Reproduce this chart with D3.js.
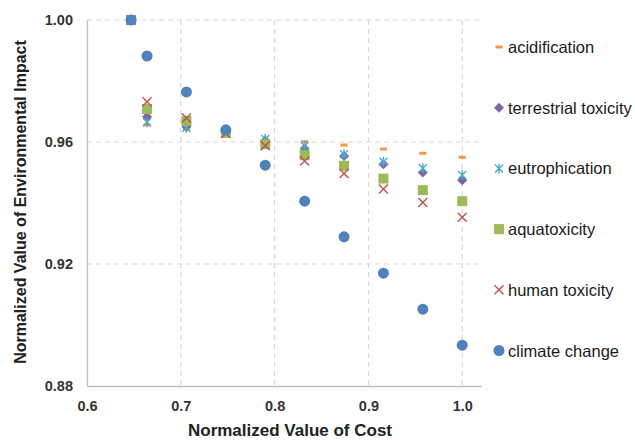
<!DOCTYPE html>
<html>
<head>
<meta charset="utf-8">
<script src="https://cdn.jsdelivr.net/npm/d3@7"></script>
<style>
  body { margin: 0; background: #fff; font-family: "Liberation Sans", Arial, sans-serif; }
</style>
</head>
<body>
<div id="chart"></div>
<script>
// Data
var costValues = [0.647, 0.664, 0.706, 0.748, 0.790, 0.832, 0.874, 0.916, 0.958, 1.000];
var acidification = [1.000, 0.9656, 0.9642, 0.9636, 0.9605, 0.9601, 0.9590, 0.9577, 0.9563, 0.9550];
var terrestrialToxicity = [1.000, 0.9683, 0.9650, 0.9632, 0.9605, 0.9579, 0.9554, 0.9527, 0.9500, 0.9475];
var eutrophication = [1.000, 0.9665, 0.9647, 0.9634, 0.9610, 0.9588, 0.9560, 0.9535, 0.9514, 0.9492];
var aquatoxicity = [1.000, 0.9708, 0.9669, 0.9630, 0.9593, 0.9557, 0.9522, 0.9480, 0.9442, 0.9406];
var humanToxicity = [1.000, 0.9732, 0.9679, 0.9628, 0.9588, 0.9538, 0.9497, 0.9446, 0.9402, 0.9353];
var climateChange = [1.000, 0.9882, 0.9764, 0.9640, 0.9524, 0.9406, 0.9289, 0.9170, 0.9052, 0.8934];

var xTicks = [0.6, 0.7, 0.8, 0.9, 1.0];
var yTicks = [0.88, 0.92, 0.96, 1.00];

var seriesNames = ['acidification', 'terrestrial toxicity', 'eutrophication', 'aquatoxicity', 'human toxicity', 'climate change'];
var seriesValues = [acidification, terrestrialToxicity, eutrophication, aquatoxicity, humanToxicity, climateChange];
var seriesColors = ['#F79646', '#8064A2', '#4BACC6', '#9BBB59', '#C0504D', '#4F81BD'];
var seriesShapes = ['dash', 'diamond', 'star', 'square', 'x', 'circle'];

var W = 635, H = 441;
var margin = {top: 20, left: 87, right: 154, bottom: 55};
var width = 481 - margin.left, height = 386 - margin.top;

var svg = d3.select('#chart').append('svg')
  .attr('width', W).attr('height', H);
var g = svg.append('g')
  .attr('transform', 'translate(' + margin.left + ',' + margin.top + ')');

var xscale = d3.scaleLinear().domain([0.6, 1.02]).range([0, width]);
var yscale = d3.scaleLinear().domain([0.88, 1.00]).range([height, 0]);

// gridlines (dashed)
g.selectAll('.hgrid').data(yTicks.filter(function(d) { return d > 0.88; }))
  .enter().append('line')
  .attr('x1', 0).attr('x2', width)
  .attr('y1', function(d) { return yscale(d); })
  .attr('y2', function(d) { return yscale(d); })
  .attr('stroke', '#d9d9d9').attr('stroke-width', 1.2)
  .attr('stroke-dasharray', '5,4');
g.selectAll('.vgrid').data(xTicks.filter(function(d) { return d > 0.6; }))
  .enter().append('line')
  .attr('x1', function(d) { return xscale(d); })
  .attr('x2', function(d) { return xscale(d); })
  .attr('y1', 0).attr('y2', height)
  .attr('stroke', '#d9d9d9').attr('stroke-width', 1.2)
  .attr('stroke-dasharray', '5,4');

// axes
var xAxis = g.append('g')
  .attr('transform', 'translate(0,' + height + ')')
  .call(d3.axisBottom(xscale).tickValues(xTicks).tickFormat(d3.format('.1f')).tickSize(0).tickPadding(15));
var yAxis = g.append('g')
  .call(d3.axisLeft(yscale).tickValues(yTicks).tickFormat(d3.format('.2f')).tickSize(0).tickPadding(14));
[xAxis, yAxis].forEach(function(a) {
  a.select('.domain').attr('stroke', '#bfbfbf').attr('stroke-width', 1.3);
  a.selectAll('text')
    .style('font-family', '"Liberation Sans", Arial, sans-serif')
    .style('font-size', '14.5px').style('font-weight', 'bold').style('fill', '#333');
});

// axis labels
svg.append('text')
  .attr('x', 290).attr('y', 436)
  .attr('text-anchor', 'middle')
  .style('font-size', '17px').style('font-weight', 'bold').style('fill', '#222')
  .text('Normalized Value of Cost');
svg.append('text')
  .attr('transform', 'translate(26,' + 202 + ') rotate(-90)')
  .attr('text-anchor', 'middle')
  .style('font-size', '16px').style('font-weight', 'bold').style('fill', '#222')
  .text('Normalized Value of Environmental Impact');

// marker drawing
function drawMarker(sel, shape, color) {
  if (shape == 'dash') {
    sel.append('rect').attr('x', -3.5).attr('y', -1.5).attr('width', 7).attr('height', 3)
      .attr('fill', color);
  } else if (shape == 'diamond') {
    sel.append('path').attr('d', 'M0,-5L5,0L0,5L-5,0Z').attr('fill', color);
  } else if (shape == 'star') {
    sel.append('path').attr('d', 'M-4,-4L4,4M-4,4L4,-4M0,-5L0,5')
      .attr('stroke', color).attr('stroke-width', 1.4).attr('fill', 'none');
  } else if (shape == 'square') {
    sel.append('rect').attr('x', -5).attr('y', -5).attr('width', 10).attr('height', 10)
      .attr('fill', color);
  } else if (shape == 'x') {
    sel.append('path').attr('d', 'M-4.5,-4.5L4.5,4.5M-4.5,4.5L4.5,-4.5')
      .attr('stroke', color).attr('stroke-width', 1.4).attr('fill', 'none');
  } else if (shape == 'circle') {
    sel.append('circle').attr('r', 5.5).attr('fill', color);
  }
}

// points
seriesNames.forEach(function(name, i) {
  var pts = g.append('g').selectAll('g')
    .data(seriesValues[i])
    .enter().append('g')
    .attr('transform', function(d, j) {
      return 'translate(' + xscale(costValues[j]) + ',' + yscale(d) + ')';
    });
  pts.each(function() { drawMarker(d3.select(this), seriesShapes[i], seriesColors[i]); });
});

// legend
var legend = svg.append('g').attr('transform', 'translate(499,47)');
seriesNames.forEach(function(name, i) {
  var item = legend.append('g').attr('transform', 'translate(0,' + (i * 60.7) + ')');
  drawMarker(item, seriesShapes[i], seriesColors[i]);
  item.append('text').attr('x', 9).attr('y', 6)
    .style('font-size', '16.5px').style('fill', '#1a1a1a')
    .text(name);
});
</script>
</body>
</html>
